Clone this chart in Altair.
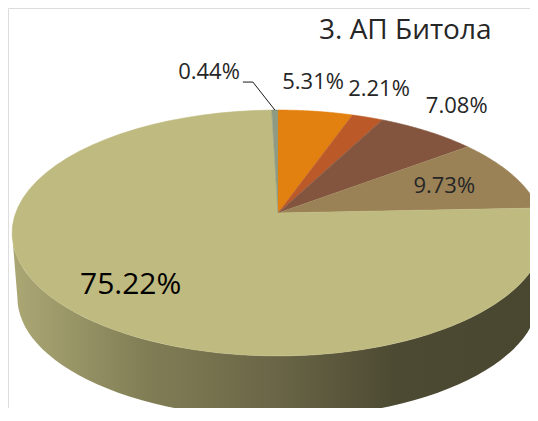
import altair as alt
import pandas as pd

# ---- data ----
slice_names = ["Дел 1", "Дел 2", "Дел 3", "Дел 4", "Дел 5", "Дел 6"]
slice_pcts = [5.31, 2.21, 7.08, 9.73, 75.22, 0.44]
slice_colors = ["#e2810f", "#bb5a28", "#83553f", "#9a8256", "#bfba7f", "#8e9a82"]
title_text = "3. АП Битола"

df = pd.DataFrame({"name": slice_names, "pct": slice_pcts,
                   "ord": list(range(len(slice_pcts)))})

# ---- layout / projection (style) ----
W, H, M = 522, 400, 8
CX, CY, A, B, K = 278, 213, 262.4, 119.7, 0.1626   # perspective pie projection
S, DC = 0.98, 64.9                                # wall (bottom face) scale/offset
FONT = "Open Sans"

xs = alt.Scale(domain=[M, W + M], nice=False, zero=False)
ys = alt.Scale(domain=[M, H + M], nice=False, zero=False, reverse=True)


def projx(X, Z):
    return f"({CX} + {A}*({X})/(1 + {K}*({Z})))"


def projy(X, Z):
    return f"({CY} - {B}*({Z})/(1 + {K}*({Z})))"


color_scale = alt.Scale(domain=slice_names, range=slice_colors)

base = alt.Chart(df).transform_window(
    cum="sum(pct)", sort=[alt.SortField("ord")], frame=[None, 0]
).transform_joinaggregate(total="sum(pct)").transform_calculate(
    a0="2*PI*(datum.cum - datum.pct)/datum.total"
).transform_calculate(
    a1="2*PI*datum.cum/datum.total"
).transform_calculate(
    amid="PI*(2*datum.cum - datum.pct)/datum.total"
).transform_calculate(
    lbl="format(datum.pct, '.2f') + '%'"
)

# ---- side wall of the big slice ----
grad = alt.Gradient(
    gradient="linear",
    stops=[
        alt.GradientStop(color="#aca875", offset=0),
        alt.GradientStop(color="#817e56", offset=0.25),
        alt.GradientStop(color="#696546", offset=0.5),
        alt.GradientStop(color="#4d4a33", offset=0.72),
        alt.GradientStop(color="#4a4731", offset=1),
    ],
    x1=0, x2=1, y1=0, y2=0,
)

wall = base.transform_filter("datum.pct >= 50").transform_calculate(
    i="sequence(0, 122)"
).transform_flatten(["i"]).transform_calculate(
    e=f"acos(-{K})"
).transform_calculate(
    ang="datum.i <= 60 ? datum.e + (2*PI - 2*datum.e)*datum.i/60 : datum.e + (2*PI - 2*datum.e)*(121 - datum.i)/60"
).transform_calculate(
    tx=projx("sin(datum.ang)", "cos(datum.ang)")
).transform_calculate(
    ty=projy("sin(datum.ang)", "cos(datum.ang)")
).transform_calculate(
    px=f"datum.i <= 60 ? datum.tx : {CX} + {S}*(datum.tx - {CX})",
    py=f"datum.i <= 60 ? datum.ty : {CY} + {DC} + {S}*(datum.ty - {CY})",
).mark_line(filled=True, fill=grad, strokeOpacity=0).encode(
    x=alt.X("px:Q", scale=xs, axis=None),
    y=alt.Y("py:Q", scale=ys, axis=None),
    order=alt.Order("i:Q"),
)

# ---- top faces ----
wedges = base.transform_calculate(
    t="sequence(0, 62)"
).transform_flatten(["t"]).transform_calculate(
    ang="datum.a0 + (datum.a1 - datum.a0)*(datum.t - 1)/60"
).transform_calculate(
    X="datum.t == 0 ? 0 : sin(datum.ang)"
).transform_calculate(
    Z="datum.t == 0 ? 0 : cos(datum.ang)"
).transform_calculate(
    px=projx("datum.X", "datum.Z")
).transform_calculate(
    py=projy("datum.X", "datum.Z")
).mark_line(filled=True, strokeWidth=0.6, strokeJoin="round").encode(
    x=alt.X("px:Q", scale=xs, axis=None),
    y=alt.Y("py:Q", scale=ys, axis=None),
    order=alt.Order("t:Q"),
    color=alt.Color("name:N", scale=color_scale, legend=None),
    stroke=alt.Stroke("name:N", scale=color_scale, legend=None),
)


def placed(chart, r, dy=0, dxc=0):
    return chart.transform_calculate(
        X=f"{r}*sin(datum.amid)"
    ).transform_calculate(
        Z=f"{r}*cos(datum.amid)"
    ).transform_calculate(
        px=projx("datum.X", "datum.Z") + f" + ({dxc})*cos(datum.amid)"
    ).transform_calculate(
        py=projy("datum.X", "datum.Z") + f" + ({dy})"
    )


enc = dict(
    x=alt.X("px:Q", scale=xs, axis=None),
    y=alt.Y("py:Q", scale=ys, axis=None),
    text="lbl:N",
)

inside_lbl = placed(base.transform_filter("datum.pct >= 9 && datum.pct < 50"), 0.7).mark_text(
    font=FONT, fontSize=22, color="#262626", align="center", baseline="middle"
).encode(**enc)

big_lbl = placed(base.transform_filter("datum.pct >= 50"), 0.75).mark_text(
    font=FONT, fontSize=30, color="#000000", align="center", baseline="middle"
).encode(**enc)

outside_lbl = placed(base.transform_filter("datum.pct >= 1 && datum.pct < 9"), 1.3, -4, -12).mark_text(
    font=FONT, fontSize=22, color="#262626", align="center", baseline="middle"
).encode(**enc)

tiny = placed(base.transform_filter("datum.pct < 1"), 1.0)

tiny_lbl = tiny.transform_calculate(
    lx="datum.px - 35", ly="datum.py - 31"
).mark_text(
    font=FONT, fontSize=22, color="#262626", align="right", baseline="alphabetic"
).encode(
    x=alt.X("lx:Q", scale=xs, axis=None),
    y=alt.Y("ly:Q", scale=ys, axis=None),
    text="lbl:N",
)

leader = tiny.transform_calculate(
    k="sequence(0, 3)"
).transform_flatten(["k"]).transform_calculate(
    lx="datum.px + (datum.k == 0 ? 0 : (datum.k == 1 ? -22 : -32))",
    ly="datum.py + (datum.k == 0 ? 0 : -28)",
).mark_line(color="#1a1a1a", strokeWidth=1).encode(
    x=alt.X("lx:Q", scale=xs, axis=None),
    y=alt.Y("ly:Q", scale=ys, axis=None),
    order=alt.Order("k:Q"),
)

title = alt.Chart(pd.DataFrame({"t": [title_text]})).mark_text(
    font=FONT, fontSize=28, color="#262626", align="left", baseline="alphabetic"
).encode(x=alt.value(319 - M), y=alt.value(39 - M), text="t:N")

chart = alt.layer(
    wall, wedges, leader, inside_lbl, big_lbl, outside_lbl, tiny_lbl, title
).properties(
    width=W, height=H, padding=0, autosize=alt.AutoSizeParams(type="none")
).configure_view(strokeWidth=0).configure(background="white")

chart.save("out.html", embed_options={"renderer": "svg", "actions": False})
